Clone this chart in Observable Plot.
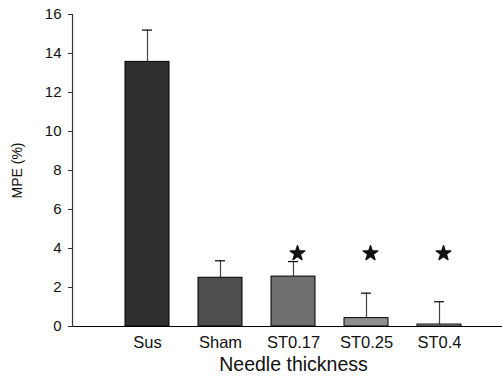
<!DOCTYPE html>
<html>
<head>
<meta charset="utf-8">
<script src="https://cdn.jsdelivr.net/npm/d3@7"></script>
<script src="https://cdn.jsdelivr.net/npm/@observablehq/plot@0.6"></script>
<style>
  html, body { margin: 0; padding: 0; background: #fff; }
  #chart svg { display: block; }
</style>
</head>
<body>
<div id="chart"></div>
<script>
const categories = ["Sus", "Sham", "ST0.17", "ST0.25", "ST0.4"];
const means = [13.57, 2.5, 2.56, 0.43, 0.1];
const errTops = [15.2, 3.37, 3.33, 1.71, 1.27];
const significant = ["ST0.17", "ST0.25", "ST0.4"];
const starLevel = 3.75;
const yTicks = [0, 2, 4, 6, 8, 10, 12, 14, 16];
const palette = ["#303030", "#4f4f4f", "#6f6f6f", "#8f8f8f", "#b0b0b0"];

const rows = categories.map((c, i) => ({cat: c, mean: means[i], err: errTops[i]}));
const stars = significant.map(c => ({cat: c, y: starLevel}));

const plot = Plot.plot({
  width: 502,
  height: 378,
  marginLeft: 72,
  marginRight: 0,
  marginTop: 14,
  marginBottom: 52,
  style: {fontFamily: "'Liberation Sans', Arial, sans-serif", background: "#fff"},
  x: {domain: categories, range: [124, 461.5], paddingInner: 0.4, paddingOuter: 0},
  y: {domain: [0, 16]},
  color: {domain: categories, range: palette},
  marks: [
    Plot.ruleX(rows, {x: "cat", y1: "mean", y2: "err", stroke: "#444", strokeWidth: 1.2}),
    Plot.tickY(rows, {x: "cat", y: "err", stroke: "#000", strokeWidth: 1.2, insetLeft: 17, insetRight: 17}),
    Plot.barY(rows, {x: "cat", y: "mean", fill: "cat", stroke: "#000", strokeWidth: 1}),
    Plot.dot(stars, {x: "cat", y: "y", symbol: "star", r: 4.6, fill: "#111", stroke: "#111", strokeWidth: 1.4, strokeLinejoin: "round", dx: 4}),
    Plot.ruleY([0], {stroke: "#000", strokeWidth: 1.2}),
    Plot.frame({anchor: "left", stroke: "#333", strokeWidth: 1.2}),
    Plot.axisY(yTicks, {tickSize: 4, tickPadding: 7, fontSize: 15, stroke: "#333", fill: "#111",
      label: "MPE (%)", labelAnchor: "center", labelArrow: "none", labelOffset: 60}),
    Plot.axisX({tickSize: 0, tickPadding: 10, fontSize: 16.5, fill: "#111", label: null}),
    Plot.text(["Needle thickness"], {x: () => "ST0.17", frameAnchor: "bottom", dy: 44, fontSize: 19.5, fill: "#111"})
  ]
});
plot.querySelectorAll("text").forEach(t => {
  if (t.textContent === "MPE (%)") t.setAttribute("font-size", "14");
});
document.getElementById("chart").appendChild(plot);
</script>
</body>
</html>
